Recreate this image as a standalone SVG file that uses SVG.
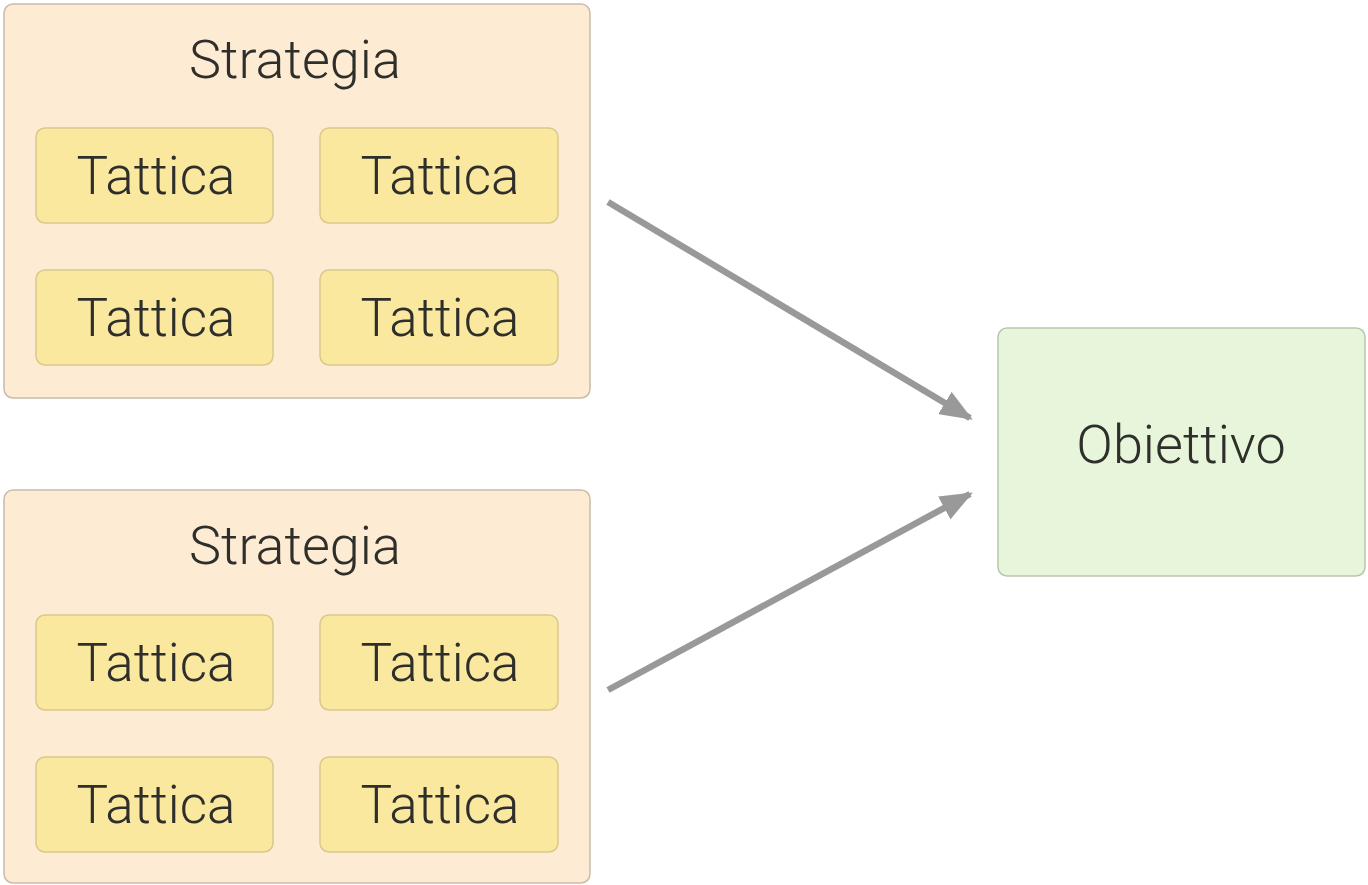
<svg xmlns="http://www.w3.org/2000/svg" width="1368" height="885" viewBox="0 0 1368 885">
<defs>
<style>
.strat{fill:#fdebd4;stroke:#c9bca9;stroke-width:1.5}
.tac{fill:#fbe89f;stroke:#d8c98c;stroke-width:1.5}
.goal{fill:#e7f6da;stroke:#b9c6ad;stroke-width:1.5}
text{font-family:Roboto,"Liberation Sans",sans-serif;font-weight:300;fill:#2e2e2a;text-anchor:middle}
.t1{font-size:54px}
.t2{font-size:53px}
.conn{stroke:#999;stroke-width:6.5;fill:none}
</style>
<marker id="ah" viewBox="0 0 10 10" refX="9" refY="5" markerWidth="5" markerHeight="4" orient="auto" markerUnits="strokeWidth" preserveAspectRatio="none">
<path d="M0,0 L10,5 L0,10 z" fill="#999"/>
</marker>
</defs>
<rect width="1368" height="885" fill="#fff"/>
<g id="strategia1">
<rect class="strat" x="4" y="4" width="586" height="394" rx="9"/>
<text class="t1" x="295" y="78">Strategia</text>
</g>
<g id="tattica1"><rect class="tac" x="36" y="128" width="237" height="95" rx="9"/><text class="t2" x="156" y="194">Tattica</text></g>
<g id="tattica2"><rect class="tac" x="320" y="128" width="238" height="95" rx="9"/><text class="t2" x="440" y="194">Tattica</text></g>
<g id="tattica3"><rect class="tac" x="36" y="270" width="237" height="95" rx="9"/><text class="t2" x="156" y="336">Tattica</text></g>
<g id="tattica4"><rect class="tac" x="320" y="270" width="238" height="95" rx="9"/><text class="t2" x="440" y="336">Tattica</text></g>
<g id="strategia2">
<rect class="strat" x="4" y="490" width="586" height="393" rx="9"/>
<text class="t1" x="295" y="564">Strategia</text>
</g>
<g id="tattica5"><rect class="tac" x="36" y="615" width="237" height="95" rx="9"/><text class="t2" x="156" y="681">Tattica</text></g>
<g id="tattica6"><rect class="tac" x="320" y="615" width="238" height="95" rx="9"/><text class="t2" x="440" y="681">Tattica</text></g>
<g id="tattica7"><rect class="tac" x="36" y="757" width="237" height="95" rx="9"/><text class="t2" x="156" y="823">Tattica</text></g>
<g id="tattica8"><rect class="tac" x="320" y="757" width="238" height="95" rx="9"/><text class="t2" x="440" y="823">Tattica</text></g>
<g id="obiettivo">
<rect class="goal" x="998" y="328" width="367" height="248" rx="9"/>
<text class="t1" x="1181" y="463">Obiettivo</text>
</g>
<g id="connectors">
<line class="conn" x1="608" y1="202" x2="970" y2="418" marker-end="url(#ah)"/>
<line class="conn" x1="608" y1="690" x2="970" y2="494" marker-end="url(#ah)"/>
</g>
</svg>
